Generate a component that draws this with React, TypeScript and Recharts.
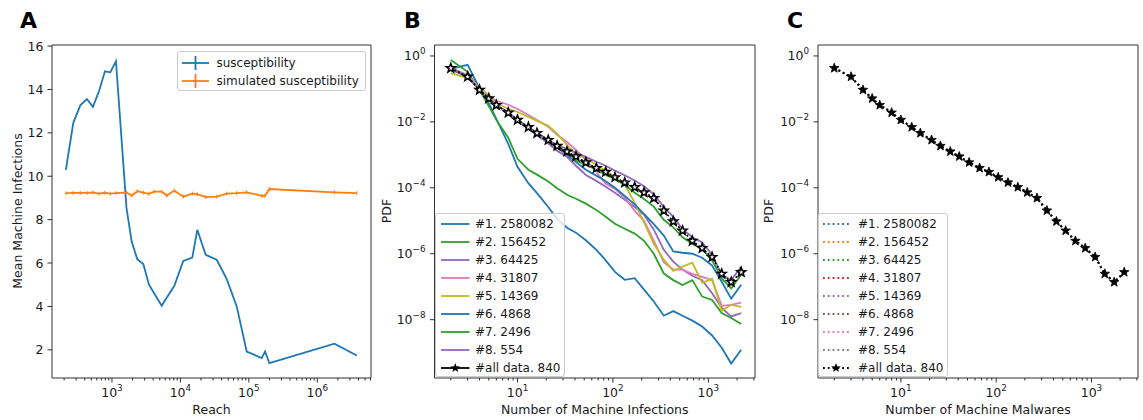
import { LineChart, Line, XAxis, YAxis, ReferenceArea } from 'recharts';

const FONT = "'DejaVu Sans', sans-serif";
const INK = '#1a1a1a';

// ---- panel A: susceptibility vs reach ----
const reach = [
  212, 272, 344, 431, 527, 650, 790, 945, 1144, 1630, 1941, 2344, 2870, 3475, 4110, 5330,
  6310, 8150, 11020, 14920, 17660, 23440, 33950, 47550, 66530, 93100, 154400, 172700, 199600,
  1780000, 3780000,
];
const susceptibility = [
  10.29, 12.45, 13.27, 13.56, 13.2, 13.94, 14.84, 14.79, 15.3, 8.54, 6.99, 6.18, 5.95, 5.0, 4.62,
  4.03, 4.4, 4.95, 6.1, 6.25, 7.53, 6.38, 6.15, 5.26, 4.0, 1.92, 1.62, 1.92, 1.39, 2.28, 1.74,
];
const simulated = [
  9.22, 9.23, 9.23, 9.23, 9.25, 9.2, 9.24, 9.2, 9.22, 9.25, 9.11, 9.31, 9.25, 9.19, 9.29, 9.29,
  9.11, 9.34, 9.06, 9.2, 9.17, 9.04, 9.06, 9.2, 9.22, 9.26, 9.1, 9.1, 9.41, 9.26, 9.22,
];
const reachTicks = [
  200, 300, 400, 500, 600, 700, 800, 900, 1e3, 2e3, 3e3, 4e3, 5e3, 6e3, 7e3, 8e3, 9e3, 1e4, 2e4,
  3e4, 4e4, 5e4, 6e4, 7e4, 8e4, 9e4, 1e5, 2e5, 3e5, 4e5, 5e5, 6e5, 7e5, 8e5, 9e5, 1e6, 2e6, 3e6,
  4e6, 5e6, 6e6,
];
const infectionTicks = [2, 4, 6, 8, 10, 12, 14, 16];

// ---- panels B / C: PDFs (values read as powers of ten) ----
const machines = [
  2, 3, 4, 5, 6, 8, 10, 13, 16, 21, 26, 33, 41, 52, 67, 84, 105, 133, 169, 212, 268, 341, 429,
  536, 679, 861, 1094, 1380, 1734, 2208,
];
const allDataExp = [
  -0.37, -0.63, -1.03, -1.29, -1.49, -1.72, -1.94, -2.16, -2.34, -2.55, -2.73, -2.9, -3.05, -3.23,
  -3.4, -3.52, -3.68, -3.84, -3.98, -4.14, -4.31, -4.69, -5.02, -5.3, -5.61, -5.83, -6.1, -6.61,
  -6.86, -6.56,
];
const set1Exp = [
  -0.39, -0.27, -0.98, -1.43, -1.91, -2.67, -3.36, -3.86, -4.16, -4.58, -4.94, -5.21, -5.36, -5.59,
  -5.88, -6.2, -6.55, -6.79, -6.74, -7.09, -7.45, -7.88, -7.74, -7.88, -8.03, -8.21, -8.48, -8.85,
  -9.33, -8.91,
];
const set2Exp = [
  -0.12, -0.48, -1.03, -1.52, -1.94, -2.48, -3.12, -3.45, -3.6, -3.81, -4.01, -4.21, -4.33, -4.48,
  -4.67, -4.88, -5.09, -5.24, -5.39, -5.61, -6.0, -6.6, -6.8, -6.95, -6.8, -7.3, -7.4, -7.8, -7.95,
  -8.13,
];
const set3Exp = [
  -0.4, -0.65, -1.02, -1.3, -1.5, -1.75, -1.97, -2.2, -2.4, -2.65, -2.88, -3.06, -3.33, -3.61,
  -3.79, -3.97, -4.15, -4.36, -4.58, -4.82, -5.27, -5.88, -6.24, -6.48, -6.67, -6.8, -7.2, -7.64,
  -7.9, -7.8,
];
const set4Exp = [
  -0.36, -0.58, -0.97, -1.21, -1.36, -1.48, -1.61, -1.79, -1.94, -2.15, -2.39, -2.61, -2.85, -3.15,
  -3.52, -3.88, -4.03, -4.3, -4.7, -5.0, -5.6, -6.26, -6.48, -6.48, -6.61, -6.7, -6.8, -7.58,
  -7.55, -7.48,
];
const set5Exp = [
  -0.52, -0.67, -0.97, -1.18, -1.42, -1.61, -1.7, -1.85, -1.97, -2.12, -2.36, -2.7, -3.0, -3.1,
  -3.3, -3.48, -3.67, -3.91, -4.45, -5.05, -5.7, -6.18, -6.52, -6.39, -6.27, -6.88, -6.76, -7.73,
  -7.55, -7.61,
];
const set6Exp = [
  -0.37, -0.63, -1.03, -1.29, -1.49, -1.72, -1.94, -2.16, -2.34, -2.55, -2.78, -3.0, -3.22, -3.45,
  -3.63, -3.8, -4.0, -4.25, -4.5, -4.8, -5.1, -5.45, -5.93, -5.97, -6.0, -6.12, -6.36, -6.85,
  -7.36, -6.94,
];
const set7Exp = [
  -0.37, -0.63, -1.03, -1.29, -1.49, -1.72, -1.94, -2.16, -2.34, -2.55, -2.73, -2.91, -3.18, -3.3,
  -3.45, -3.61, -3.73, -3.92, -4.15, -4.34, -4.57, -4.97, -5.2, -5.5, -5.7, -5.85, -6.2, -6.75,
  -7.05, -6.64,
];
const set8Exp = [
  -0.37, -0.63, -1.03, -1.29, -1.49, -1.72, -1.94, -2.16, -2.34, -2.55, -2.7, -2.82, -2.94, -3.06,
  -3.21, -3.33, -3.48, -3.62, -3.78, -3.95, -4.2, -4.58, -4.88, -5.25, -5.5, -5.66, -6.03, -6.64,
  -6.8, -6.39,
];
const setLabels = [
  '#1. 2580082', '#2. 156452', '#3. 64425', '#4. 31807',
  '#5. 14369', '#6. 4868', '#7. 2496', '#8. 554',
];
const allLabel = '#all data. 840';
const colorsB = ['#1f77b4', '#2ca02c', '#9467bd', '#e377c2', '#bcbd22', '#1f77b4', '#2ca02c', '#9467bd'];
const colorsC = ['#1f77b4', '#ff7f0e', '#2ca02c', '#d62728', '#9467bd', '#8c564b', '#e377c2', '#7f7f7f'];
const pdfXTicks = [
  2, 3, 4, 5, 6, 7, 8, 9, 10, 20, 30, 40, 50, 60, 70, 80, 90, 100, 200, 300, 400, 500, 600, 700,
  800, 900, 1000, 2000, 3000,
];
const pdfYTicks = [1, 1e-2, 1e-4, 1e-6, 1e-8];

const reachDomain = [133, 6.1e6];
const infectionDomain = [0.7, 16.05];
const pdfXDomain = [1.35, 3080];
const pdfYDomain = [1.7e-10, 2.15];

const reachRows = reach.map((x, i) => ({ x, sus: susceptibility[i], sim: simulated[i] }));
const setsExp = [set1Exp, set2Exp, set3Exp, set4Exp, set5Exp, set6Exp, set7Exp, set8Exp];
const pdfRows = machines.map((x, i) => {
  const row: Record<string, number> = { x, all: 10 ** allDataExp[i] };
  setsExp.forEach((s, k) => {
    row['s' + (k + 1)] = 10 ** s[i];
    // in panel C all subsets sit on the all-data curve
    row['c' + (k + 1)] = 10 ** allDataExp[i];
  });
  return row;
});

const starPath = (cx: number, cy: number, R: number, r: number) => {
  let d = '';
  for (let i = 0; i < 10; i++) {
    const rad = i % 2 === 0 ? R : r;
    const a = -Math.PI / 2 + (i * Math.PI) / 5;
    d += (i === 0 ? 'M' : 'L') + (cx + rad * Math.cos(a)).toFixed(2) + ',' + (cy + rad * Math.sin(a)).toFixed(2);
  }
  return d + 'Z';
};

function LogXTick(props: any) {
  const { x, y, payload } = props;
  const p = Math.log10(payload.value);
  const major = Math.abs(p - Math.round(p)) < 1e-9;
  return (
    <g>
      <line x1={x} x2={x} y1={y} y2={y + (major ? 4.5 : 2.5)} stroke={INK} strokeWidth={0.9} />
      {major && (
        <text x={x} y={y + 19} textAnchor="middle" fontFamily={FONT} fontSize={12.5} fill={INK}>
          10<tspan dy={-6} fontSize={8.8}>{Math.round(p)}</tspan>
        </text>
      )}
    </g>
  );
}

function LogYTick(props: any) {
  const { x, y, payload } = props;
  const e = Math.round(Math.log10(payload.value));
  return (
    <g>
      <line x1={x} x2={x - 4.5} y1={y} y2={y} stroke={INK} strokeWidth={0.9} />
      <text x={x - 9} y={y + 4.5} textAnchor="end" fontFamily={FONT} fontSize={12.5} fill={INK}>
        10<tspan dy={-6} fontSize={8.8}>{e < 0 ? '\u2212' + -e : e}</tspan>
      </text>
    </g>
  );
}

function LinYTick(props: any) {
  const { x, y, payload } = props;
  return (
    <g>
      <line x1={x} x2={x - 4.5} y1={y} y2={y} stroke={INK} strokeWidth={0.9} />
      <text x={x - 8.5} y={y + 4.5} textAnchor="end" fontFamily={FONT} fontSize={12.5} fill={INK}>
        {payload.value}
      </text>
    </g>
  );
}

const xTitle = (text: string, cx: number) => () => (
  <text x={cx} y={414} textAnchor="middle" fontFamily={FONT} fontSize={12.5} fill={INK}>
    {text}
  </text>
);

const yTitle = (text: string, cx: number, letter: string, lx: number) => () => (
  <g>
    <text
      x={cx}
      y={211}
      transform={`rotate(-90 ${cx} ${211})`}
      textAnchor="middle"
      dominantBaseline="central"
      fontFamily={FONT}
      fontSize={12.5}
      fill={INK}
    >
      {text}
    </text>
    <text x={lx} y={28} fontFamily={FONT} fontSize={22} fontWeight="bold" fill="#000">
      {letter}
    </text>
  </g>
);

const plusDot = (color: string) => (p: any) => (
  <line key={p.index} x1={p.cx} x2={p.cx} y1={p.cy - 2} y2={p.cy + 2} stroke={color} strokeWidth={1} />
);

const starDot = (fill: string, R: number, sw: number) => (p: any) => (
  <path key={p.index} d={starPath(p.cx, p.cy, R, R * 0.42)} fill={fill} stroke="#000" strokeWidth={sw} />
);

const boxStyle = (left: number, top: number, width: number, height: number): React.CSSProperties => ({
  position: 'absolute',
  left,
  top,
  width,
  height,
  background: 'rgba(255,255,255,0.8)',
  border: '1px solid #cccccc',
  borderRadius: 3,
  boxSizing: 'border-box',
});

function LegendRow({ top, sampleLeft, sampleWidth, textLeft, label, sample }: any) {
  return (
    <div style={{ position: 'absolute', top: top - 9, left: 0, height: 18, width: '100%' }}>
      <svg style={{ position: 'absolute', left: sampleLeft, top: 0 }} width={sampleWidth} height={18}>
        {sample}
      </svg>
      <span
        style={{
          position: 'absolute',
          left: textLeft,
          top: 0,
          lineHeight: '18px',
          fontSize: 12,
          fontFamily: FONT,
          color: INK,
          whiteSpace: 'nowrap',
        }}
      >
        {label}
      </span>
    </div>
  );
}

const rowCenters = [223.3, 241.3, 259.3, 277.3, 295, 312.7, 330.7, 348.7, 366.7];

export default function App() {
  return (
    <div style={{ position: 'relative', width: 1143, height: 420, background: '#fff', fontFamily: FONT }}>
      <style>{'body{margin:0}'}</style>

      {/* A */}
      <div style={{ position: 'absolute', left: 0, top: 0 }}>
        <LineChart width={380} height={420} data={reachRows} margin={{ top: 45, right: 9, bottom: 0, left: 0 }}>
          <XAxis
            type="number"
            dataKey="x"
            scale="log"
            domain={reachDomain}
            allowDataOverflow
            ticks={reachTicks}
            interval={0}
            tickSize={0}
            tickMargin={0}
            axisLine={false}
            tick={(p: any) => <LogXTick {...p} />}
            height={42}
            label={xTitle('Reach', 211.5)}
          />
          <YAxis
            type="number"
            domain={infectionDomain}
            allowDataOverflow
            ticks={infectionTicks}
            interval={0}
            tickSize={0}
            tickMargin={0}
            axisLine={false}
            tick={(p: any) => <LinYTick {...p} />}
            width={52}
            label={yTitle('Mean Machine Infections', 17, 'A', 20)}
          />
          <ReferenceArea
            x1={reachDomain[0]}
            x2={reachDomain[1]}
            y1={infectionDomain[0]}
            y2={infectionDomain[1]}
            fill="none"
            stroke="#333"
            strokeWidth={1}
            ifOverflow="visible"
          />
          <Line dataKey="sus" stroke="#1f77b4" strokeWidth={1.8} dot={false} activeDot={false} isAnimationActive={false} />
          <Line dataKey="sim" stroke="#ff7f0e" strokeWidth={1.8} dot={plusDot('#ff7f0e')} activeDot={false} isAnimationActive={false} />
        </LineChart>
      </div>
      <div style={boxStyle(176.5, 50.5, 189, 40.5)}>
        {[
          { c: '#1f77b4', t: 'susceptibility', y: 61.7 },
          { c: '#ff7f0e', t: 'simulated susceptibility', y: 80 },
        ].map((r) => (
          <LegendRow
            key={r.t}
            top={r.y - 50.5}
            sampleLeft={4}
            sampleWidth={27}
            textLeft={39}
            label={r.t}
            sample={
              <g stroke={r.c} strokeWidth={1.8}>
                <line x1={0} x2={27} y1={9} y2={9} />
                <line x1={13.5} x2={13.5} y1={2} y2={16} />
              </g>
            }
          />
        ))}
      </div>

      {/* B */}
      <div style={{ position: 'absolute', left: 380, top: 0 }}>
        <LineChart width={380} height={420} data={pdfRows} margin={{ top: 45, right: 5, bottom: 0, left: 0 }}>
          <XAxis
            type="number"
            dataKey="x"
            scale="log"
            domain={pdfXDomain}
            allowDataOverflow
            ticks={pdfXTicks}
            interval={0}
            tickSize={0}
            tickMargin={0}
            axisLine={false}
            tick={(p: any) => <LogXTick {...p} />}
            height={42}
            label={xTitle('Number of Machine Infections', 214.75)}
          />
          <YAxis
            type="number"
            scale="log"
            domain={pdfYDomain}
            allowDataOverflow
            ticks={pdfYTicks}
            interval={0}
            tickSize={0}
            tickMargin={0}
            axisLine={false}
            tick={(p: any) => <LogYTick {...p} />}
            width={54.5}
            label={yTitle('PDF', 6.5, 'B', 24)}
          />
          <ReferenceArea
            x1={pdfXDomain[0]}
            x2={pdfXDomain[1]}
            y1={pdfYDomain[0]}
            y2={pdfYDomain[1]}
            fill="none"
            stroke="#333"
            strokeWidth={1}
            ifOverflow="visible"
          />
          {setLabels.map((name, k) => (
            <Line
              key={name}
              dataKey={'s' + (k + 1)}
              stroke={colorsB[k]}
              strokeWidth={1.8}
              dot={false}
              activeDot={false}
              isAnimationActive={false}
            />
          ))}
          <Line
            dataKey="all"
            stroke="#000"
            strokeWidth={1.6}
            strokeDasharray="2 2"
            dot={starDot('#fff', 4.6, 1.6)}
            activeDot={false}
            isAnimationActive={false}
          />
        </LineChart>
      </div>
      <div style={boxStyle(435, 212.7, 130, 164)}>
        {setLabels.map((name, k) => (
          <LegendRow
            key={name}
            top={rowCenters[k] - 212.7}
            sampleLeft={4.5}
            sampleWidth={29}
            textLeft={39}
            label={name}
            sample={<line x1={0} x2={28.5} y1={9} y2={9} stroke={colorsB[k]} strokeWidth={1.8} />}
          />
        ))}
        <LegendRow
          top={rowCenters[8] - 212.7}
          sampleLeft={4.5}
          sampleWidth={29}
          textLeft={39}
          label={allLabel}
          sample={
            <g>
              <line x1={0} x2={28.5} y1={9} y2={9} stroke="#000" strokeWidth={1.8} />
              <path d={starPath(14.25, 9, 5, 2.1)} fill="#000" />
            </g>
          }
        />
      </div>

      {/* C */}
      <div style={{ position: 'absolute', left: 760, top: 0 }}>
        <LineChart width={383} height={420} data={pdfRows} margin={{ top: 45, right: 5, bottom: 0, left: 0 }}>
          <XAxis
            type="number"
            dataKey="x"
            scale="log"
            domain={pdfXDomain}
            allowDataOverflow
            ticks={pdfXTicks}
            interval={0}
            tickSize={0}
            tickMargin={0}
            axisLine={false}
            tick={(p: any) => <LogXTick {...p} />}
            height={42}
            label={xTitle('Number of Machine Malwares', 218)}
          />
          <YAxis
            type="number"
            scale="log"
            domain={pdfYDomain}
            allowDataOverflow
            ticks={pdfYTicks}
            interval={0}
            tickSize={0}
            tickMargin={0}
            axisLine={false}
            tick={(p: any) => <LogYTick {...p} />}
            width={58}
            label={yTitle('PDF', 8.5, 'C', 27)}
          />
          <ReferenceArea
            x1={pdfXDomain[0]}
            x2={pdfXDomain[1]}
            y1={pdfYDomain[0]}
            y2={pdfYDomain[1]}
            fill="none"
            stroke="#333"
            strokeWidth={1}
            ifOverflow="visible"
          />
          {setLabels.map((name, k) => (
            <Line
              key={name}
              dataKey={'c' + (k + 1)}
              stroke={colorsC[k]}
              strokeWidth={1.8}
              strokeDasharray="1.8 3"
              dot={false}
              activeDot={false}
              isAnimationActive={false}
            />
          ))}
          <Line
            dataKey="all"
            stroke="#000"
            strokeWidth={1.8}
            strokeDasharray="1.8 3"
            dot={starDot('#000', 5, 0.8)}
            activeDot={false}
            isAnimationActive={false}
          />
        </LineChart>
      </div>
      <div style={boxStyle(818, 212.7, 130, 164)}>
        {setLabels.map((name, k) => (
          <LegendRow
            key={name}
            top={rowCenters[k] - 212.7}
            sampleLeft={3.5}
            sampleWidth={26}
            textLeft={39}
            label={name}
            sample={<line x1={0} x2={26} y1={9} y2={9} stroke={colorsC[k]} strokeWidth={1.8} strokeDasharray="1.8 3" />}
          />
        ))}
        <LegendRow
          top={rowCenters[8] - 212.7}
          sampleLeft={3.5}
          sampleWidth={26}
          textLeft={39}
          label={allLabel}
          sample={
            <g>
              <line x1={0} x2={26} y1={9} y2={9} stroke="#000" strokeWidth={1.8} strokeDasharray="1.8 3" />
              <path d={starPath(13, 9, 5, 2.1)} fill="#000" />
            </g>
          }
        />
      </div>
    </div>
  );
}
